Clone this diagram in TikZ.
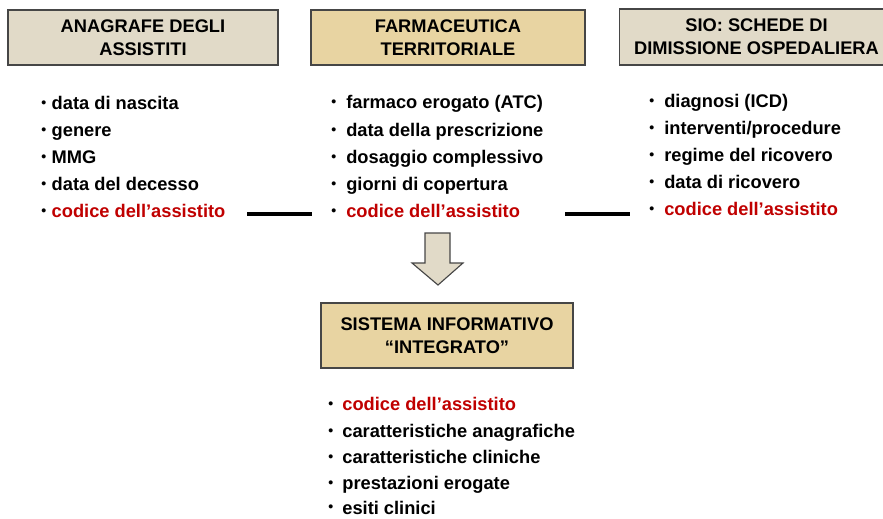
\documentclass[tikz,border=0pt]{standalone}
\usepackage{fontspec}
\setmainfont{Liberation Sans}
\definecolor{greybeige}{RGB}{225,218,200}
\definecolor{tanbeige}{RGB}{232,212,162}
\definecolor{codered}{RGB}{192,0,0}
\definecolor{boxline}{RGB}{70,70,70}
\newcommand{\bul}[1]{\raisebox{0.12em}{\textcolor{black}{\fontsize{10}{10}\selectfont\textbullet}}\hspace{#1}}
\tikzset{
  hdr/.style={draw=boxline, line width=1.2pt, align=center, inner sep=0pt,
    font=\fontsize{13}{16.4}\selectfont\bfseries},
  item/.style={anchor=west, inner sep=0pt, text height=9.5pt, text depth=3pt,
    font=\fontsize{13}{16}\selectfont\bfseries},
  key/.style={item, text=codered},
  link/.style={line width=2.4pt},
}
\begin{document}
\begin{tikzpicture}[x=0.025cm, y=-0.025cm]
      \useasboundingbox (0,0) rectangle (883,519);

      % Boxes
      \node[hdr, fill=greybeige, minimum width=6.75cm, minimum height=1.375cm] (anag) at (143,37.5) {ANAGRAFE DEGLI\\ASSISTITI};
      \node[hdr, fill=tanbeige, minimum width=6.85cm, minimum height=1.375cm] (farm) at (448,37.5) {FARMACEUTICA\\TERRITORIALE};
      \node[hdr, fill=greybeige, minimum width=6.85cm, minimum height=1.4cm] (sio) at (756.5,37) {SIO: SCHEDE DI\\DIMISSIONE OSPEDALIERA};
      \node[hdr, fill=tanbeige, minimum width=6.3cm, minimum height=1.625cm] (sis) at (447,335.5) {SISTEMA INFORMATIVO\\``INTEGRATO''};

      % Lists
      \node[item] (a1) at (41,105) {\bul{0.3em}data di nascita};
      \node[item] (a2) at (41,132) {\bul{0.3em}genere};
      \node[item] (a3) at (41,159) {\bul{0.3em}MMG};
      \node[item] (a4) at (41,186) {\bul{0.3em}data del decesso};
      \node[key] (a5) at (41,213) {\bul{0.3em}codice dell’assistito};

      \node[item] (f1) at (331,104) {\bul{0.55em}farmaco erogato (ATC)};
      \node[item] (f2) at (331,132) {\bul{0.55em}data della prescrizione};
      \node[item] (f3) at (331,159) {\bul{0.55em}dosaggio complessivo};
      \node[item] (f4) at (331,186) {\bul{0.55em}giorni di copertura};
      \node[key] (f5) at (331,213) {\bul{0.55em}codice dell’assistito};

      \node[item] (s1) at (649,103) {\bul{0.55em}diagnosi (ICD)};
      \node[item] (s2) at (649,130) {\bul{0.55em}interventi/procedure};
      \node[item] (s3) at (649,157) {\bul{0.55em}regime del ricovero};
      \node[item] (s4) at (649,184) {\bul{0.55em}data di ricovero};
      \node[key] (s5) at (649,211) {\bul{0.55em}codice dell’assistito};

      \node[key] (i1) at (328,406) {\bul{0.5em}codice dell’assistito};
      \node[item] (i2) at (328,433) {\bul{0.5em}caratteristiche anagrafiche};
      \node[item] (i3) at (328,459) {\bul{0.5em}caratteristiche cliniche};
      \node[item] (i4) at (328,485) {\bul{0.5em}prestazioni erogate};
      \node[item] (i5) at (328,509.5) {\bul{0.5em}esiti clinici};

      % Links
      \coordinate (la) at (247,214);
      \coordinate (lb) at (312,214);
      \coordinate (ra) at (565,214);
      \coordinate (rb) at (630,214);
      \draw[link] (la) -- (lb);
      \draw[link] (ra) -- (rb);

      % Arrow
      \draw[draw=boxline, fill=greybeige, line width=0.8pt]
        (425,233) -- (450,233) -- (450,263) -- (463,263) -- (438,285)
        -- (412,263) -- (425,263) -- cycle;
\end{tikzpicture}
\end{document}
